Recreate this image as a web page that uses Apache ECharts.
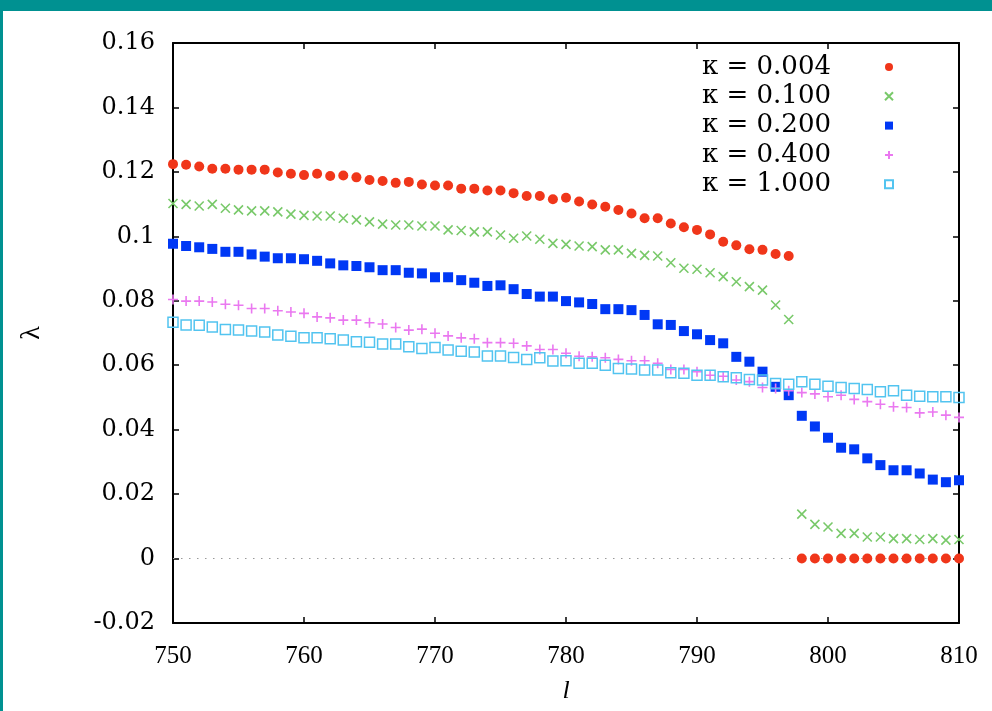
<!DOCTYPE html>
<html>
<head>
<meta charset="utf-8">
<script src="https://cdn.jsdelivr.net/npm/echarts@6/dist/echarts.min.js"></script>
<style>
  html, body { margin: 0; padding: 0; background: #009191; }
  #frame { position: absolute; left: 3px; top: 11px; width: 989px; height: 700px; background: #ffffff; }
  #chart { position: absolute; left: 0; top: 0; width: 992px; height: 711px; }
</style>
</head>
<body>
<div id="frame"></div>
<div id="chart"></div>
<script>
// mode number l
const ell = [750, 751, 752, 753, 754, 755, 756, 757, 758, 759, 760, 761, 762, 763, 764,
  765, 766, 767, 768, 769, 770, 771, 772, 773, 774, 775, 776, 777, 778, 779,
  780, 781, 782, 783, 784, 785, 786, 787, 788, 789, 790, 791, 792, 793, 794,
  795, 796, 797, 798, 799, 800, 801, 802, 803, 804, 805, 806, 807, 808, 809, 810];

// growth rate lambda for each coupling kappa
const lambdaK0004 = [0.1224, 0.1222, 0.1217, 0.1210, 0.1210, 0.1207, 0.1207, 0.1207, 0.1198, 0.1194, 0.1190, 0.1194, 0.1187, 0.1189, 0.1183,
  0.1175, 0.1172, 0.1166, 0.1169, 0.1161, 0.1158, 0.1158, 0.1148, 0.1148, 0.1142, 0.1142, 0.1134, 0.1125, 0.1125, 0.1115,
  0.1120, 0.1108, 0.1099, 0.1092, 0.1082, 0.1071, 0.1056, 0.1056, 0.1040, 0.1028, 0.1020, 0.1006, 0.0983, 0.0972, 0.0960,
  0.0958, 0.0945, 0.0939, 0, 0, 0, 0, 0, 0, 0, 0, 0, 0, 0, 0, 0];
const lambdaK0100 = [0.1102, 0.1099, 0.1094, 0.1099, 0.1087, 0.1082, 0.1079, 0.1079, 0.1076, 0.1069, 0.1065, 0.1063, 0.1063, 0.1056, 0.1051,
  0.1045, 0.1038, 0.1035, 0.1035, 0.1032, 0.1032, 0.1020, 0.1018, 0.1014, 0.1014, 0.1004, 0.0994, 0.1001, 0.0991, 0.0978,
  0.0975, 0.0970, 0.0968, 0.0958, 0.0958, 0.0947, 0.0941, 0.0939, 0.0918, 0.0901, 0.0898, 0.0887, 0.0875, 0.0859, 0.0844,
  0.0833, 0.0787, 0.0742, 0.0138, 0.0106, 0.0098, 0.0078, 0.0078, 0.0067, 0.0067, 0.0062, 0.0062, 0.0059, 0.0062, 0.0057, 0.0059];
const lambdaK0200 = [0.0977, 0.0970, 0.0966, 0.0961, 0.0952, 0.0952, 0.0944, 0.0937, 0.0932, 0.0932, 0.0929, 0.0924, 0.0916, 0.0910, 0.0908,
  0.0904, 0.0895, 0.0895, 0.0887, 0.0885, 0.0873, 0.0873, 0.0864, 0.0856, 0.0846, 0.0848, 0.0836, 0.0821, 0.0813, 0.0813,
  0.0799, 0.0795, 0.0790, 0.0774, 0.0774, 0.0771, 0.0756, 0.0727, 0.0725, 0.0706, 0.0696, 0.0678, 0.0668, 0.0626, 0.0611,
  0.0580, 0.0533, 0.0507, 0.0443, 0.0410, 0.0375, 0.0344, 0.0339, 0.0311, 0.0290, 0.0274, 0.0274, 0.0264, 0.0245, 0.0237, 0.0243];
const lambdaK0400 = [0.0804, 0.0799, 0.0799, 0.0796, 0.0789, 0.0786, 0.0776, 0.0776, 0.0769, 0.0765, 0.0761, 0.0750, 0.0747, 0.0740, 0.0740,
  0.0732, 0.0728, 0.0717, 0.0709, 0.0712, 0.0699, 0.0691, 0.0685, 0.0682, 0.0670, 0.0670, 0.0668, 0.0660, 0.0649, 0.0649,
  0.0637, 0.0628, 0.0626, 0.0623, 0.0618, 0.0614, 0.0614, 0.0606, 0.0587, 0.0587, 0.0580, 0.0569, 0.0566, 0.0554, 0.0549,
  0.0531, 0.0528, 0.0521, 0.0515, 0.0511, 0.0502, 0.0507, 0.0494, 0.0487, 0.0479, 0.0471, 0.0469, 0.0452, 0.0455, 0.0445, 0.0438];
const lambdaK1000 = [0.0733, 0.0725, 0.0724, 0.0719, 0.0711, 0.0709, 0.0706, 0.0703, 0.0694, 0.0690, 0.0685, 0.0685, 0.0682, 0.0678, 0.0673,
  0.0671, 0.0666, 0.0666, 0.0657, 0.0652, 0.0655, 0.0647, 0.0643, 0.0641, 0.0629, 0.0629, 0.0624, 0.0618, 0.0623, 0.0613,
  0.0614, 0.0606, 0.0606, 0.0600, 0.0590, 0.0588, 0.0585, 0.0585, 0.0577, 0.0575, 0.0569, 0.0569, 0.0564, 0.0561, 0.0556,
  0.0554, 0.0543, 0.0541, 0.0549, 0.0541, 0.0535, 0.0531, 0.0528, 0.0525, 0.0518, 0.0521, 0.0507, 0.0504, 0.0502, 0.0502, 0.0500];

const seriesNames = ['κ = 0.004', 'κ = 0.100', 'κ = 0.200', 'κ = 0.400', 'κ = 1.000'];
const seriesValues = [lambdaK0004, lambdaK0100, lambdaK0200, lambdaK0400, lambdaK1000];

const serif = '"Liberation Serif", "Times New Roman", serif';
const wideSerif = '"DejaVu Serif", "Liberation Serif", serif';
const colors = ['#f0361a', '#79c96a', '#0038f5', '#ea78f0', '#52c4f0'];

// point styles: filled circle, cross, filled square, plus, open square
const markerStyles = [
  { symbol: 'circle', symbolSize: 10, itemStyle: { color: colors[0], opacity: 1 } },
  { symbol: 'path://M0,0L10,10M10,0L0,10', symbolSize: 9,
    itemStyle: { color: 'none', borderColor: colors[1], borderWidth: 1.6, opacity: 1 } },
  { symbol: 'rect', symbolSize: 10, itemStyle: { color: colors[2], opacity: 1 } },
  { symbol: 'path://M5,0L5,10M0,5L10,5', symbolSize: 10,
    itemStyle: { color: 'none', borderColor: colors[3], borderWidth: 1.6, opacity: 1 } },
  { symbol: 'rect', symbolSize: 10,
    itemStyle: { color: 'rgba(255,255,255,0)', borderColor: colors[4], borderWidth: 1.5, opacity: 1 } }
];

const series = seriesNames.map((name, i) => Object.assign({
  name: name,
  type: 'scatter',
  clip: false,
  data: ell.map((l, j) => [l, seriesValues[i][j]])
}, markerStyles[i]));

// dotted zero reference line
series[0].markLine = {
  silent: true,
  symbol: 'none',
  label: { show: false },
  lineStyle: { color: '#9a9a9a', type: [1.5, 6.5], width: 1.2 },
  data: [{ yAxis: 0 }],
  z: 1
};

const xRange = { min: 750, max: 810, interval: 10 };
const yRange = { min: -0.02, max: 0.16, interval: 0.02 };

const axisLine = { show: true, onZero: false, lineStyle: { color: '#000', width: 2 } };
const tick = { show: true, inside: true, length: 6, lineStyle: { color: '#000', width: 1.5 } };

const chart = echarts.init(document.getElementById('chart'), null, { renderer: 'canvas' });
chart.setOption({
  backgroundColor: 'transparent',
  animation: false,
  grid: { left: 173, right: 33, top: 43, bottom: 88 },
  legend: {
    left: 697,
    top: 49,
    orient: 'vertical',
    align: 'right',
    itemGap: 3.3,
    itemWidth: 8,
    itemHeight: 8,
    data: seriesNames,
    // key text followed by a blank run before the sample point
    formatter: name => '{t|' + name + '}{s|}',
    textStyle: {
      rich: {
        t: { fontFamily: wideSerif, fontSize: 26, color: '#000', lineHeight: 24 },
        s: { width: 49, lineHeight: 24 }
      }
    }
  },
  xAxis: [
    Object.assign({
      type: 'value', position: 'bottom',
      name: 'l', nameLocation: 'middle', nameGap: 55,
      nameTextStyle: { fontFamily: serif, fontSize: 26, fontStyle: 'italic', color: '#000' },
      axisLine: axisLine, axisTick: tick,
      axisLabel: { fontFamily: serif, fontSize: 25, color: '#000', margin: 21 },
      splitLine: { show: false }
    }, xRange),
    Object.assign({
      type: 'value', position: 'top',
      axisLine: axisLine, axisTick: tick, axisLabel: { show: false }, splitLine: { show: false }
    }, xRange)
  ],
  yAxis: [
    Object.assign({
      type: 'value', position: 'left',
      name: 'λ', nameLocation: 'middle', nameGap: 127, nameRotate: 90,
      nameTextStyle: { fontFamily: serif, fontSize: 28, color: '#000' },
      axisLine: axisLine, axisTick: tick,
      axisLabel: { fontFamily: wideSerif, fontSize: 24, color: '#000', margin: 18 },
      splitLine: { show: false }
    }, yRange),
    Object.assign({
      type: 'value', position: 'right',
      axisLine: axisLine, axisTick: tick, axisLabel: { show: false }, splitLine: { show: false }
    }, yRange)
  ],
  series: series
});
</script>
</body>
</html>
